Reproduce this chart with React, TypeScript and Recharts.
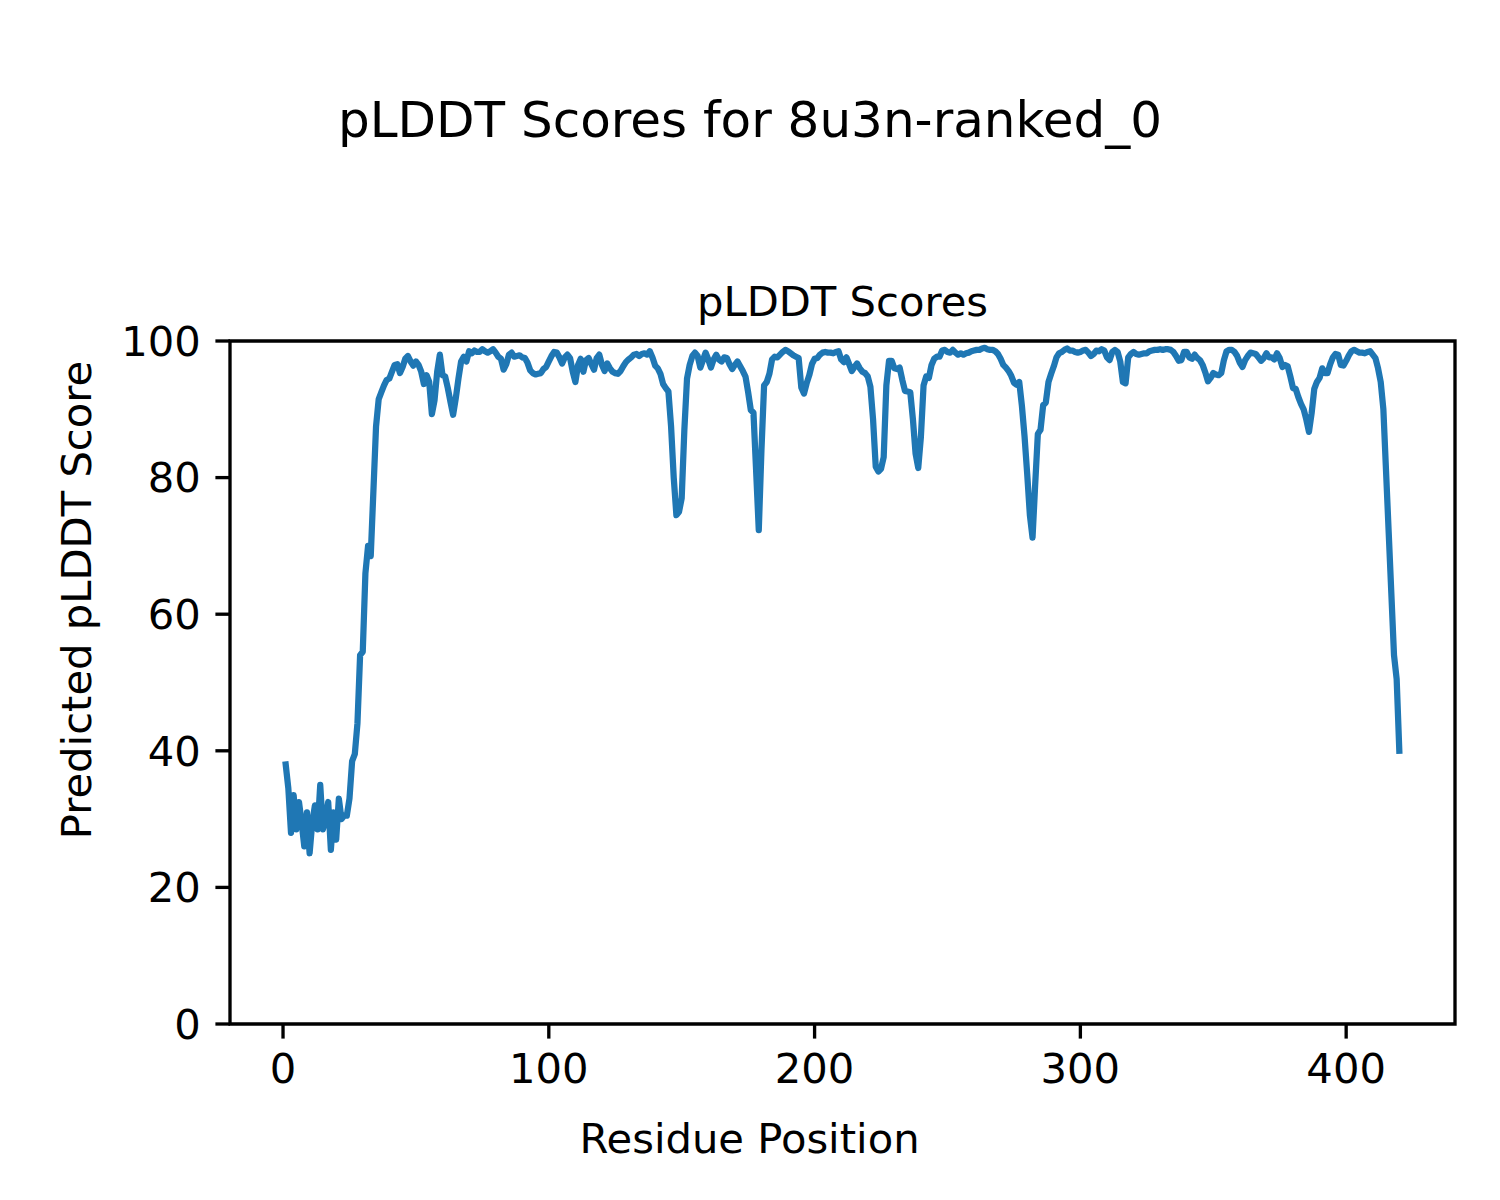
import React from "react";
import {
  LineChart,
  Line,
  XAxis,
  YAxis,
  ReferenceArea,
  Label,
} from "recharts";

// pLDDT per residue (residue 1..420)
const plddtScores: number[] = [
  38, 34.5, 28, 33.5, 28.5, 32.5, 29.5, 26, 31, 25,
  29.5, 32, 28.5, 35, 28.5, 30, 32.5, 25.5, 31, 27,
  33, 30, 30.5, 30.5, 33, 38.5, 39.5, 44, 54, 54.5,
  66, 70, 68.5, 78, 87.5, 91.5, 92.5, 93.5, 94.3, 94.5,
  95.5, 96.5, 96.6, 95.3, 96.2, 97.4, 97.8, 97, 96.4, 97,
  96.5, 95.5, 93.7, 95, 94, 89.3, 91.3, 95.5, 98, 95,
  94.8, 93.1, 91.1, 89.2, 91.6, 94.5, 97, 97.7, 97, 98.5,
  98.2, 98.6, 98.4, 98.4, 98.8, 98.5, 98.3, 98.5, 98.8, 98.3,
  97.7, 97.4, 95.8, 96.6, 98, 98.3, 97.7, 97.8, 97.9, 97.6,
  97.5, 96.8, 95.7, 95.3, 95.1, 95.2, 95.3, 95.9, 96.2, 97,
  97.8, 98.4, 98.3, 97.6, 96.7, 97.6, 98, 97.5, 95.5, 94,
  96.5, 97.4, 95.5, 97.2, 97.5, 96.6, 95.8, 97.5, 98, 96.5,
  95.6, 96.7, 96, 95.5, 95.3, 95.2, 95.6, 96.3, 96.9, 97.3,
  97.6, 98, 98.1, 97.8, 98.1, 98.2, 98, 98.5, 97.6, 96.4,
  96, 95.2, 93.7, 93.1, 92.6, 87.5, 80, 74.5, 75, 77,
  87, 94.5, 96.5, 97.8, 98.3, 97.8, 96.1, 97.2, 98.3, 97.3,
  96.1, 97.3, 98, 97.3, 97, 97.6, 97.5, 96.6, 95.9, 96.5,
  97, 96.3, 95.6, 94.8, 92.5, 89.9, 89.5, 81, 72.3, 84,
  93.5, 94, 95.2, 97.3, 97.7, 97.6, 98, 98.4, 98.7, 98.5,
  98.2, 97.9, 97.7, 97.5, 93.2, 92.3, 93.8, 95, 96.6, 97.4,
  97.5, 98, 98.3, 98.4, 98.3, 98.3, 98.2, 98.4, 98.5, 97.3,
  96.9, 97.6, 96.6, 95.6, 96.2, 96.7, 96, 95.5, 95.3, 94.8,
  93.3, 88.5, 81.6, 80.9, 81.3, 83, 93.5, 97.1, 97.1, 96,
  95.9, 96.1, 94.3, 92.7, 92.6, 92.5, 88.5, 83.5, 81.4, 86,
  93.5, 94.8, 94.6, 96.5, 97.4, 97.7, 97.7, 98.6, 98.7, 98.4,
  98.3, 98.7, 98.3, 98, 98.2, 98, 98.2, 98.3, 98.5, 98.6,
  98.7, 98.7, 98.9, 99, 98.8, 98.7, 98.7, 98.5, 98.1, 97.4,
  96.5, 96.1, 95.6, 94.9, 93.9, 93.6, 94, 90.5, 86, 80.5,
  74.5, 71.2, 79, 86.4, 87, 90.6, 91, 94, 95.2, 96.3,
  97.6, 98.2, 98.4, 98.7, 98.9, 98.6, 98.6, 98.4, 98.3, 98.4,
  98.6, 98.7, 98.3, 97.8, 98.1, 98.6, 98.5, 98.8, 98.6, 97.6,
  97.2, 98.4, 98.7, 98.4, 97, 94, 93.8, 97.6, 98.1, 98.4,
  98.1, 98, 98.1, 98.2, 98.2, 98.5, 98.6, 98.7, 98.7, 98.8,
  98.7, 98.8, 98.8, 98.7, 98.4, 97.8, 97.1, 97.2, 98.4, 98.4,
  97.6, 97.4, 98, 97.5, 97.2, 96.5, 95.4, 94.1, 94.6, 95.3,
  95.1, 95, 95.3, 97.2, 98.5, 98.7, 98.7, 98.4, 97.8, 96.8,
  96.2, 97.2, 97.8, 98.3, 98.2, 98.1, 97.6, 97.1, 97.5, 98.2,
  97.6, 97.6, 97.3, 98.2, 97.5, 96.2, 96.5, 96.3, 94.8, 93.1,
  93, 91.8, 90.8, 90, 88.5, 86.7, 89.4, 93, 94, 94.6,
  96, 95.3, 95.3, 96.6, 97.6, 98.1, 98, 96.5, 96.4, 97.1,
  97.9, 98.5, 98.7, 98.5, 98.3, 98.3, 98.2, 98.4, 98.5, 98,
  97.5, 96, 94, 90, 81, 72, 63, 54, 50.5, 40,
];

const xTicks = [0, 100, 200, 300, 400];
const yTicks = [0, 20, 40, 60, 80, 100];

const figTitle = "pLDDT Scores for 8u3n-ranked_0";
const axTitle = "pLDDT Scores";
const xLabel = "Residue Position";
const yLabel = "Predicted pLDDT Score";

// matplotlib-ish sizes at 300 dpi
const FONT = "DejaVu Sans";
const TICK_FS = 41.7;
const TITLE_FS = 50;
const TICK_LEN = 14.6;
const SPINE_W = 3.33;
const X_MIN = -19.95;
const X_MAX = 440.95;

const data = plddtScores.map((score, i) => ({ residue: i + 1, score }));

export default function App() {
  return (
    <div
      style={{
        position: "absolute",
        left: 0,
        top: 0,
        width: 1500,
        height: 1200,
        background: "#fff",
      }}
    >
      <LineChart
        width={1500}
        height={1200}
        data={data}
        margin={{ top: 341, right: 45, left: 0, bottom: 0 }}
      >
        <XAxis
          type="number"
          dataKey="residue"
          domain={[X_MIN, X_MAX]}
          ticks={xTicks}
          allowDataOverflow
          height={176}
          axisLine={false}
          tickSize={TICK_LEN}
          tickMargin={TICK_LEN}
          tickLine={{ stroke: "#000", strokeWidth: SPINE_W }}
          tick={{ fill: "#000", fontSize: TICK_FS, fontFamily: FONT }}
        >
          <Label
            content={() => (
              <text
                x={749.5}
                y={1153}
                textAnchor="middle"
                fontFamily={FONT}
                fontSize={TICK_FS}
                fill="#000"
              >
                {xLabel}
              </text>
            )}
          />
        </XAxis>
        <YAxis
          type="number"
          domain={[0, 100]}
          ticks={yTicks}
          width={230}
          axisLine={false}
          tickSize={TICK_LEN}
          tickMargin={TICK_LEN}
          tickLine={{ stroke: "#000", strokeWidth: SPINE_W }}
          tick={{ fill: "#000", fontSize: TICK_FS, fontFamily: FONT }}
        >
          <Label
            content={() => (
              <text
                x={91}
                y={600}
                textAnchor="middle"
                fontFamily={FONT}
                fontSize={TICK_FS}
                fill="#000"
                transform="rotate(-90 91 600)"
              >
                {yLabel}
              </text>
            )}
          />
        </YAxis>
        <Line
          type="linear"
          dataKey="score"
          stroke="#1f77b4"
          strokeWidth={6.25}
          strokeLinejoin="round"
          strokeLinecap="square"
          dot={false}
          activeDot={false}
          isAnimationActive={false}
        />
        <ReferenceArea
          x1={X_MIN}
          x2={X_MAX}
          y1={0}
          y2={100}
          ifOverflow="visible"
          fill="none"
          fillOpacity={0}
          stroke="#000"
          strokeWidth={SPINE_W}
          label={
            <Label
              content={() => (
                <g fontFamily={FONT} fill="#000" textAnchor="middle">
                  <text x={750} y={137} fontSize={TITLE_FS}>
                    {figTitle}
                  </text>
                  <text x={842.5} y={316} fontSize={TICK_FS}>
                    {axTitle}
                  </text>
                </g>
              )}
            />
          }
        />
      </LineChart>
    </div>
  );
}
